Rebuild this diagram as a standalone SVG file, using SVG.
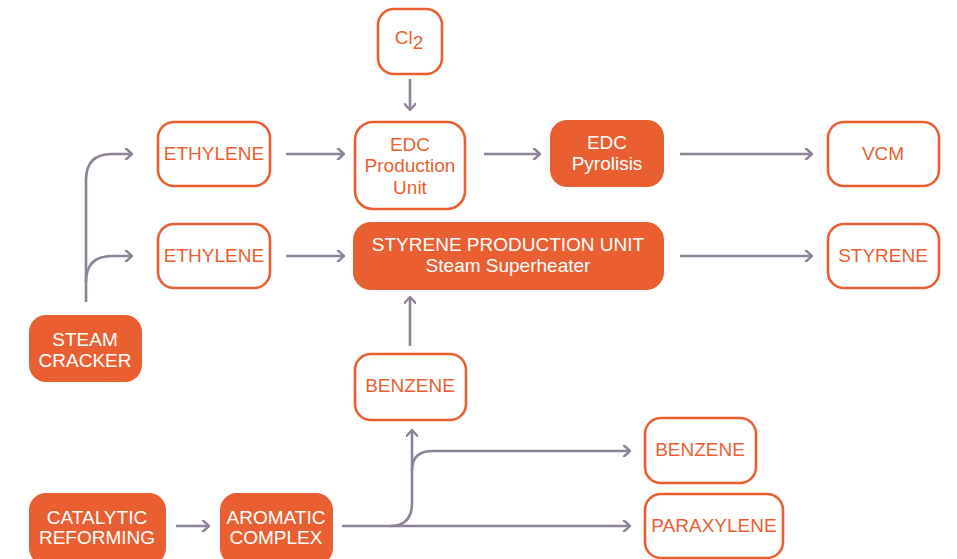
<svg xmlns="http://www.w3.org/2000/svg" width="957" height="559" viewBox="0 0 957 559">
<defs>
<marker id="ah" viewBox="0 0 12 12" refX="11" refY="6" markerWidth="12" markerHeight="12" markerUnits="userSpaceOnUse" orient="auto">
<path d="M5 0.5 L11 6 L5 11.5" fill="none" stroke="#8E8299" stroke-width="2.4" stroke-linecap="round" stroke-linejoin="round"/>
</marker>
<style>
.o{fill:#fff;stroke:#EA5F32;stroke-width:2.6}
.f{fill:#EA5F32;stroke:none}
.to{fill:#EA5F32;font-family:"Liberation Sans",Arial,sans-serif;font-size:19px;text-anchor:middle}
.tf{fill:#fff;font-family:"Liberation Sans",Arial,sans-serif;font-size:19px;text-anchor:middle}
.c{fill:none;stroke:#8E8299;stroke-width:2.6;marker-end:url(#ah)}
</style>
</defs>
<rect width="957" height="559" fill="#fff"/>
<g id="connectors">
<path class="c" d="M410 79 V110"/>
<path class="c" d="M286 154 H344"/>
<path class="c" d="M286 256 H344"/>
<path class="c" d="M484 154 H540"/>
<path class="c" d="M680 154 H812"/>
<path class="c" d="M680 256 H812"/>
<path class="c" d="M86 302 V180 Q86 154 112 154 H132"/>
<path class="c" d="M86 282 Q86 256 112 256 H132"/>
<path class="c" d="M410 346 V297"/>
<path class="c" d="M176 526 H209"/>
<path class="c" d="M342 526 H630"/>
<path class="c" d="M390 526 Q412 526 412 503 V430"/>
<path class="c" d="M412 470 Q412 451 433 451 H630"/>
</g>
<g id="cl2"><rect class="o" x="378" y="9" width="64" height="65" rx="16"/><text class="to" x="409" y="44" font-size="21">Cl<tspan dy="5">2</tspan></text></g>
<g id="ethylene1"><rect class="o" x="158" y="122" width="112" height="64" rx="16"/><text class="to" x="214" y="160">ETHYLENE</text></g>
<g id="ethylene2"><rect class="o" x="158" y="224" width="112" height="64" rx="16"/><text class="to" x="214" y="262">ETHYLENE</text></g>
<g id="edc-production"><rect class="o" x="355" y="122" width="110" height="87" rx="18"/><text class="to" x="410" y="151">EDC</text><text class="to" x="410" y="172">Production</text><text class="to" x="410" y="194">Unit</text></g>
<g id="edc-pyrolisis"><rect class="f" x="550" y="120" width="114" height="67" rx="17"/><text class="tf" x="607" y="149">EDC</text><text class="tf" x="607" y="170">Pyrolisis</text></g>
<g id="vcm"><rect class="o" x="828" y="122" width="111" height="64" rx="16"/><text class="to" x="883" y="160">VCM</text></g>
<g id="styrene-unit"><rect class="f" x="353" y="222" width="311" height="68" rx="18"/><text class="tf" x="508" y="251">STYRENE PRODUCTION UNIT</text><text class="tf" x="508" y="272">Steam Superheater</text></g>
<g id="styrene"><rect class="o" x="828" y="224" width="111" height="64" rx="16"/><text class="to" x="883" y="262">STYRENE</text></g>
<g id="steam-cracker"><rect class="f" x="29" y="315" width="113" height="67" rx="17"/><text class="tf" x="85" y="346">STEAM</text><text class="tf" x="85" y="367">CRACKER</text></g>
<g id="benzene-mid"><rect class="o" x="355" y="354" width="111" height="66" rx="16"/><text class="to" x="410" y="392">BENZENE</text></g>
<g id="catalytic"><rect class="f" x="29" y="493" width="137" height="72" rx="17"/><text class="tf" x="97" y="524">CATALYTIC</text><text class="tf" x="97" y="544">REFORMING</text></g>
<g id="aromatic"><rect class="f" x="220" y="493" width="113" height="72" rx="17"/><text class="tf" x="276" y="524">AROMATIC</text><text class="tf" x="276" y="544">COMPLEX</text></g>
<g id="benzene-right"><rect class="o" x="645" y="418" width="111" height="65" rx="16"/><text class="to" x="700" y="456">BENZENE</text></g>
<g id="paraxylene"><rect class="o" x="645" y="494" width="138" height="64" rx="16"/><text class="to" x="714" y="532">PARAXYLENE</text></g>
</svg>
